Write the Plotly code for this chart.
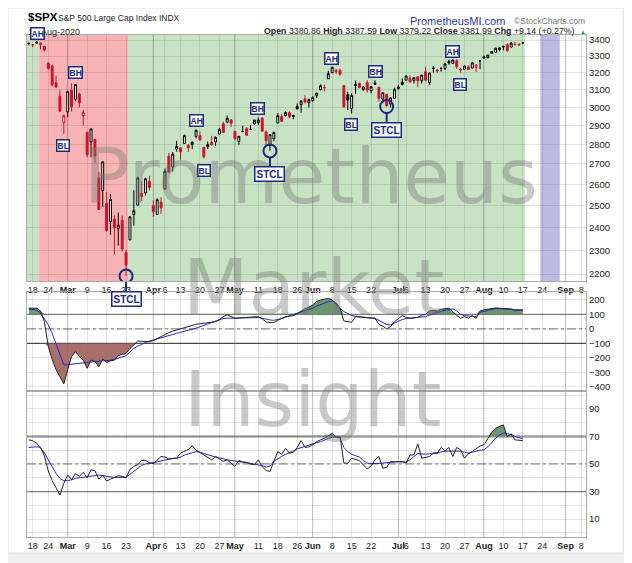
import numpy as np
import plotly.graph_objects as go

# trading days shown on the chart (Feb 14 .. Aug 17, 2020)
trading_days = {
    2: [14, 18, 19, 20, 21, 24, 25, 26, 27, 28],
    3: [2, 3, 4, 5, 6, 9, 10, 11, 12, 13, 16, 17, 18, 19, 20, 23, 24, 25, 26, 27, 30, 31],
    4: [1, 2, 3, 6, 7, 8, 9, 13, 14, 15, 16, 17, 20, 21, 22, 23, 24, 27, 28, 29, 30],
    5: [1, 4, 5, 6, 7, 8, 11, 12, 13, 14, 15, 18, 19, 20, 21, 22, 26, 27, 28, 29],
    6: [1, 2, 3, 4, 5, 8, 9, 10, 11, 12, 15, 16, 17, 18, 19, 22, 23, 24, 25, 26, 29, 30],
    7: [1, 2, 6, 7, 8, 9, 10, 13, 14, 15, 16, 17, 20, 21, 22, 23, 24, 27, 28, 29, 30, 31],
    8: [3, 4, 5, 6, 7, 10, 11, 12, 13, 14, 17],
}
# empty future sessions on the axis
future_days = ['2020-08-18', '2020-08-19', '2020-08-20', '2020-08-21', '2020-08-24',
               '2020-08-25', '2020-08-26', '2020-08-27', '2020-08-28', '2020-08-31',
               '2020-09-01', '2020-09-02', '2020-09-03', '2020-09-04', '2020-09-08']

dates = ['2020-%02d-%02d' % (m, d) for m in trading_days for d in trading_days[m]]
calendar = dates + future_days

opens = [3378.1, 3369.0, 3380.4, 3380.4, 3360.5, 3257.6, 3238.9, 3139.9, 3062.5, 2916.9,
         2974.3, 3096.5, 3045.8, 3075.7, 2954.2, 2863.9, 2813.5, 2825.6, 2630.9, 2570.0, 2508.6,
         2425.7, 2436.5, 2393.5, 2431.9, 2290.7, 2344.4, 2457.8, 2501.3, 2555.9, 2559.0, 2614.7,
         2498.1, 2458.5, 2514.9, 2578.3, 2738.7, 2685.0, 2776.0, 2782.5, 2805.1, 2795.6, 2812.6,
         2842.4, 2845.6, 2784.8, 2787.9, 2810.4, 2812.6, 2854.65, 2909.96, 2918.5, 2930.9,
         2869.1, 2815.0, 2868.9, 2883.1, 2878.3, 2908.8, 2915.5, 2939.5, 2865.9, 2794.5, 2829.95,
         2913.9, 2948.6, 2953.6, 2969.95, 2948.05, 3004.1, 3015.65, 3046.6, 3025.2,
         3038.8, 3064.8, 3098.9, 3111.6, 3163.8, 3199.9, 3213.3, 3213.4, 3123.5, 3071.0, 2993.8,
         3131.0, 3136.1, 3101.6, 3140.3, 3094.4, 3138.7, 3114.4, 3046.6, 3073.2, 3018.6, 3050.2,
         3105.9, 3143.6, 3155.3, 3166.4, 3153.1, 3176.2, 3152.5, 3205.1, 3141.1, 3225.98, 3208.4,
         3224.2, 3224.3, 3268.5, 3254.9, 3271.6, 3218.6, 3219.8, 3234.3, 3227.2, 3231.8, 3270.45,
         3288.3, 3289.9, 3317.4, 3323.2, 3340.0, 3356.0, 3370.3, 3355.5, 3372.95, 3368.7, 3380.86]
highs = [3380.7, 3375.0, 3393.5, 3385.1, 3360.8, 3259.8, 3247.0, 3182.5, 3097.1, 2959.7,
         3090.96, 3136.7, 3130.97, 3083.04, 2985.9, 2863.9, 2882.6, 2825.6, 2660.95, 2711.3, 2562.98,
         2553.9, 2453.6, 2466.97, 2453.0, 2300.7, 2449.7, 2571.4, 2637.0, 2615.9, 2631.8, 2641.4,
         2522.75, 2533.2, 2538.2, 2676.9, 2756.9, 2760.75, 2818.6, 2782.5, 2851.85, 2801.9, 2815.8,
         2879.2, 2868.98, 2785.5, 2815.1, 2844.9, 2842.7, 2887.7, 2921.15, 2954.9, 2930.9,
         2869.1, 2844.2, 2898.2, 2891.1, 2901.9, 2932.2, 2944.25, 2945.8, 2874.1, 2852.8, 2865.0,
         2968.1, 2964.2, 2980.3, 2978.5, 2956.8, 3021.7, 3036.25, 3068.7, 3049.2,
         3062.2, 3081.1, 3130.9, 3128.9, 3211.7, 3233.1, 3222.7, 3223.3, 3123.5, 3088.4, 3079.8,
         3153.45, 3141.2, 3120.0, 3155.5, 3120.9, 3154.9, 3115.0, 3086.25, 3073.7, 3053.9, 3111.5,
         3128.4, 3165.8, 3182.6, 3184.15, 3171.8, 3179.8, 3186.8, 3235.3, 3200.95, 3238.3, 3220.4,
         3233.5, 3258.6, 3277.3, 3279.3, 3279.99, 3227.3, 3241.4, 3243.7, 3264.7, 3250.9, 3272.2,
         3302.7, 3306.8, 3330.8, 3351.0, 3352.5, 3363.3, 3381.0, 3387.9, 3387.2, 3378.5, 3387.59]
lows = [3367.0, 3355.6, 3378.8, 3341.0, 3328.5, 3214.6, 3118.8, 3109.0, 2977.4, 2855.8,
        2945.2, 2976.6, 3034.4, 2999.8, 2901.5, 2734.4, 2734.0, 2707.2, 2478.9, 2492.4, 2380.9,
        2367.0, 2280.5, 2319.8, 2295.6, 2191.9, 2344.4, 2407.5, 2500.7, 2520.0, 2545.3, 2571.2,
        2447.5, 2455.8, 2459.96, 2574.6, 2657.7, 2663.3, 2762.4, 2721.2, 2805.1, 2761.5, 2775.95,
        2830.9, 2820.4, 2727.1, 2775.95, 2794.3, 2791.8, 2852.9, 2860.7, 2912.2, 2892.5,
        2821.6, 2797.85, 2863.6, 2847.65, 2876.5, 2902.9, 2903.4, 2869.6, 2793.15, 2766.6, 2816.8,
        2913.9, 2922.35, 2953.6, 2938.6, 2933.6, 2988.2, 2969.75, 3023.4, 2998.6,
        3031.5, 3051.6, 3098.9, 3090.4, 3163.8, 3196.0, 3193.1, 3181.5, 2999.5, 2984.5, 2965.7,
        3076.1, 3108.0, 3093.5, 3083.1, 3079.4, 3127.1, 3032.1, 3024.0, 3004.6, 2999.7, 3047.8,
        3101.96, 3124.5, 3155.3, 3142.9, 3136.5, 3115.7, 3136.2, 3149.4, 3127.7, 3200.8, 3198.6,
        3205.65, 3215.2, 3247.8, 3253.1, 3222.7, 3200.0, 3214.25, 3216.2, 3227.2, 3204.1, 3220.3,
        3284.5, 3286.4, 3317.4, 3318.1, 3328.7, 3335.4, 3326.4, 3355.5, 3363.4, 3361.6, 3379.22]
closes = [3380.16, 3370.29, 3386.15, 3373.23, 3337.75, 3225.89, 3128.21, 3116.39, 2978.76, 2954.22,
          3090.23, 3003.37, 3130.12, 3023.94, 2972.37, 2746.56, 2882.23, 2741.38, 2480.64, 2711.02,
          2386.13, 2529.19, 2398.10, 2409.39, 2304.92, 2237.40, 2447.33, 2475.56, 2630.07, 2541.47,
          2626.65, 2584.59,
          2470.50, 2526.90, 2488.65, 2663.68, 2659.41, 2749.98, 2789.82, 2761.63, 2846.06, 2783.36,
          2799.55, 2874.56, 2823.16, 2736.56, 2799.31, 2797.80, 2836.74, 2878.48, 2863.39, 2939.51,
          2912.43,
          2830.71, 2842.74, 2868.44, 2848.42, 2881.19, 2929.80, 2930.19, 2870.12, 2820.00, 2852.50,
          2863.70, 2953.91, 2922.94, 2971.61, 2948.51, 2955.45, 2991.77, 3036.13, 3029.73, 3044.31,
          3055.73, 3080.82, 3122.87, 3112.35, 3193.93, 3232.39, 3207.18, 3190.14, 3002.10, 3041.31,
          3066.59, 3124.74, 3113.49, 3115.34, 3097.74, 3117.86, 3131.29, 3050.33, 3083.76, 3009.05,
          3053.24, 3100.29,
          3115.86, 3130.01, 3179.72, 3145.32, 3169.94, 3152.05, 3185.04, 3155.22, 3197.52, 3226.56,
          3215.57, 3224.73, 3251.84, 3257.30, 3276.02, 3235.66, 3215.63, 3239.41, 3218.44, 3258.44,
          3246.22, 3271.12,
          3294.61, 3306.51, 3327.77, 3349.16, 3351.28, 3360.47, 3333.69, 3380.35, 3373.43, 3372.85,
          3381.99]

# middle panel oscillator (black) and its signal (blue)
osc_line = [143, 143, 143, 125, 50, -120, -210, -280, -330, -379,
            -280, -191, -156, -191, -215, -271, -214, -225, -260, -207, -231, -220, -215, -184,
            -175, -168, -135, -110, -83, -85, -87, -88,
            -80, -65, -50, -35, -25, -15, -7, 2, 9, 18, 25, 32, 36, 39, 42, 46, 50, 65, 85, 97, 88,
            74, 76, 78, 80, 82, 84, 85, 70, 48, 44, 44, 60, 75, 85, 88, 92, 105, 124, 140, 150,
            166, 189, 200, 205, 211, 200, 170, 143, 55, 48, 46, 85, 84, 80, 77, 75, 74, 32, 20, 0,
            16, 50,
            74, 92, 80, 74, 76, 80, 95, 101, 124, 128, 124, 135, 140, 143, 120, 92, 74, 85, 74, 92,
            74, 124,
            132, 138, 143, 145, 143, 143, 138, 138, 124, 131, 131]
osc_signal = [138, 136, 131, 110, 70, 28, -30, -98, -170, -248,
              -246, -243, -238, -233, -229, -228, -226, -224, -222, -220, -219, -216, -210, -200,
              -192, -184, -160, -135, -118, -108, -92, -85,
              -78, -70, -62, -53, -45, -38, -30, -24, -18, -10, -2, 6, 14, 23, 33, 45, 55, 65, 72,
              74, 74,
              74, 74, 74, 75, 76, 78, 80, 76, 68, 62, 60, 65, 72, 80, 92, 100, 108, 118, 128, 131,
              143, 158, 166, 178, 188, 193, 180, 143, 120, 105, 92, 88, 84, 80, 78, 76, 74, 60, 45,
              30, 28, 40,
              55, 65, 72, 74, 76, 78, 80, 85, 95, 105, 112, 124, 130, 134, 138, 125, 100, 92, 88, 86,
              85, 115,
              122, 130, 138, 140, 140, 139, 138, 137, 135, 132, 131]

# lower panel RSI (black) and its average (blue)
rsi_line = [67.5, 67, 65, 62, 56, 45, 38, 33, 27.5, 36,
            42, 38.7, 43, 41, 44, 40, 45.8, 45, 39, 42, 37.6, 39, 40, 41.5, 41, 40, 46, 48.2, 49.5,
            52.6, 52.6, 51,
            50.2, 53, 55.5, 55, 53.6, 54, 54.3, 57.9, 59, 60.5, 63.2, 60, 58.4, 56.7, 55, 53, 55.5,
            54, 51.9, 53, 50.5,
            48.2, 52.6, 51.5, 51.2, 50, 49.5, 53, 48, 45.3, 44.6, 51.9, 59, 57, 61.5, 57.8, 58.5,
            62, 67, 62, 62.5,
            64, 66.2, 67.5, 68.7, 70.5, 72.3, 69.4, 69.9, 50.6, 50.6, 54.2, 53.5, 52.5, 49.3, 46.4,
            48.6, 53, 55.4, 46.9, 47.6, 51.7, 51.7,
            51.7, 51.7, 50.6, 56.6, 56.6, 64.6, 54.2, 55, 55.4, 57.8, 57.5, 62, 59.6, 62, 55.4, 62,
            60.3, 54.2, 57.4, 59.1, 61, 63.1,
            63.9, 68, 72.9, 76, 77.5, 78.4, 69.9, 71.9, 67.5, 67.2, 67]
rsi_signal = [62, 62.5, 62.5, 62, 58, 53, 48, 43.2, 39.5, 37.8,
              38, 38.5, 39.6, 40, 40.5, 40.8, 41.5, 42, 42, 41.5, 41, 40.5, 40.2, 40.3, 40.4, 40.4,
              42.5, 44.5, 46.5, 49, 50, 50.4,
              50.6, 51.5, 52.3, 53, 53.5, 54, 54.2, 55, 56.5, 57.5, 58.5, 59, 58.5, 57.5, 56.5,
              55.5, 55, 54.5, 53.5, 53, 52.6,
              52, 51.7, 51.3, 51, 50.5, 50.2, 49.6, 48.8, 47.8, 48.5, 52, 54, 55.5, 57, 58, 59.5,
              61, 62, 63, 63.5,
              64.5, 65.5, 66.2, 67.5, 68.5, 69.4, 69.7, 69, 62, 59, 57, 56, 55, 52.5, 50.6, 50.3,
              50.2, 50.4, 50.7, 51, 51.4, 51.6,
              51.7, 51.5, 51.5, 53, 55, 57.6, 57.3, 57.1, 57.5, 58, 58.5, 59, 59.2, 59.4, 59.5,
              59.6, 59.3, 58.5, 58, 58.6, 59.5, 60,
              60.3, 62.5, 65.5, 68.9, 71, 72.5, 72, 71.3, 70, 69, 68.2]

# x-axis tick labels
tick_dates = ['2020-02-18', '2020-02-24', '2020-03-02', '2020-03-09', '2020-03-16', '2020-03-23',
              '2020-04-01', '2020-04-06', '2020-04-13', '2020-04-20', '2020-04-27', '2020-05-01',
              '2020-05-11', '2020-05-18', '2020-05-26', '2020-06-01', '2020-06-08', '2020-06-15',
              '2020-06-22', '2020-07-01', '2020-07-06', '2020-07-13', '2020-07-20', '2020-07-27',
              '2020-08-03', '2020-08-10', '2020-08-17', '2020-08-24', '2020-09-01', '2020-09-08']
tick_text = ['18', '24', 'Mar', '9', '16', '23', 'Apr', '6', '13', '20', '27', 'May', '11', '18',
             '26', 'Jun', '8', '15', '22', 'Jul', '6', '13', '20', '27', 'Aug', '10', '17', '24',
             'Sep', '8']
months = ['Mar', 'Apr', 'May', 'Jun', 'Jul', 'Aug', 'Sep']
price_ticks = [2200, 2300, 2400, 2500, 2600, 2700, 2800, 2900, 3000, 3100, 3200, 3300, 3400]

# background regimes: (first day, last day, colour)
regimes = [('2020-02-14', '2020-02-19', '#c8e2c4'),
           ('2020-02-20', '2020-03-23', '#f8b4b4'),
           ('2020-03-24', '2020-08-17', '#c8e2c4'),
           ('2020-08-24', '2020-08-28', '#bcbce2')]

# labels on the price chart: (text, position, price)
box_labels = [('BH', 11.9, 3198), ('BL', 8.8, 2792),
              ('AH', 43.0, 2930), ('BL', 45.0, 2669), ('BH', 58.9, 2996),
              ('AH', 77.7, 3288), ('BH', 89.0, 3204), ('BL', 82.8, 2908),
              ('AH', 108.8, 3331), ('BL', 110.9, 3133)]
stcl_dates = ['2020-03-23', '2020-05-14', '2020-06-26']

pos = {d: i for i, d in enumerate(calendar)}
x = np.arange(len(dates))
closes_a = np.array(closes)
prev = np.concatenate([[closes_a[0]], closes_a[:-1]])
up = closes_a >= prev

NAVY = '#1c2a80'
RED = '#d0102a'
FONT = 'Liberation Sans, Arial, sans-serif'


def px_x(p):
    return (p - 27) / 559.0


def px_y(p):
    return (537 - p) / 502.0


fig = go.Figure()

for mask, col in [(up, 'black'), (~up, RED)]:
    idx = np.where(mask)[0]
    fig.add_trace(go.Candlestick(
        x=x[idx], open=np.array(opens)[idx], high=np.array(highs)[idx],
        low=np.array(lows)[idx], close=closes_a[idx],
        increasing=dict(line=dict(color=col, width=1), fillcolor='white'),
        decreasing=dict(line=dict(color=col, width=1), fillcolor=col),
        whiskerwidth=0, xaxis='x', yaxis='y', showlegend=False, hoverinfo='skip'))

stcl_x = [pos[d] for d in stcl_dates]
stcl_y = [lows[pos[d]] for d in stcl_dates]
fig.add_trace(go.Scatter(x=stcl_x, y=stcl_y, mode='markers', xaxis='x', yaxis='y',
                         marker=dict(symbol='circle-open', size=13, color=NAVY,
                                     line=dict(width=2, color=NAVY)),
                         showlegend=False, hoverinfo='skip'))

# middle panel
osc = np.array(osc_line, dtype=float)
fig.add_trace(go.Scatter(x=x, y=np.full(len(x), 100.0), mode='lines', line=dict(width=0),
                         xaxis='x2', yaxis='y2', showlegend=False, hoverinfo='skip'))
fig.add_trace(go.Scatter(x=x, y=np.maximum(osc, 100), mode='lines', line=dict(width=0),
                         fill='tonexty', fillcolor='rgba(95,140,95,0.9)',
                         xaxis='x2', yaxis='y2', showlegend=False, hoverinfo='skip'))
fig.add_trace(go.Scatter(x=x, y=np.full(len(x), -100.0), mode='lines', line=dict(width=0),
                         xaxis='x2', yaxis='y2', showlegend=False, hoverinfo='skip'))
fig.add_trace(go.Scatter(x=x, y=np.minimum(osc, -100), mode='lines', line=dict(width=0),
                         fill='tonexty', fillcolor='rgba(160,95,92,0.9)',
                         xaxis='x2', yaxis='y2', showlegend=False, hoverinfo='skip'))
fig.add_trace(go.Scatter(x=x, y=osc_signal, mode='lines', line=dict(color='#2828c8', width=1),
                         xaxis='x2', yaxis='y2', showlegend=False, hoverinfo='skip'))
fig.add_trace(go.Scatter(x=x, y=osc_line, mode='lines', line=dict(color='#222', width=1),
                         xaxis='x2', yaxis='y2', showlegend=False, hoverinfo='skip'))

# lower panel
rsi = np.array(rsi_line, dtype=float)
fig.add_trace(go.Scatter(x=x, y=np.full(len(x), 70.0), mode='lines', line=dict(width=0),
                         xaxis='x3', yaxis='y3', showlegend=False, hoverinfo='skip'))
fig.add_trace(go.Scatter(x=x, y=np.maximum(rsi, 70), mode='lines', line=dict(width=0),
                         fill='tonexty', fillcolor='rgba(95,140,95,0.9)',
                         xaxis='x3', yaxis='y3', showlegend=False, hoverinfo='skip'))
fig.add_trace(go.Scatter(x=x, y=rsi_signal, mode='lines', line=dict(color='#2828c8', width=1),
                         xaxis='x3', yaxis='y3', showlegend=False, hoverinfo='skip'))
fig.add_trace(go.Scatter(x=x, y=rsi_line, mode='lines', line=dict(color='#222', width=1),
                         xaxis='x3', yaxis='y3', showlegend=False, hoverinfo='skip'))

shapes = [dict(type='rect', xref='paper', yref='paper', x0=px_x(8), x1=px_x(623),
               y0=px_y(553), y1=px_y(8), fillcolor='white', line=dict(color='#e2e2e2', width=1),
               layer='below')]
for d0, d1, col in regimes:
    shapes.append(dict(type='rect', xref='x', yref='y domain', x0=pos[d0] - 0.5,
                       x1=pos[d1] + 0.5, y0=0, y1=1, fillcolor=col, line=dict(width=0),
                       layer='below'))
tick_pos = [pos[d] for d in tick_dates]
for tp, tt in zip(tick_pos, tick_text):
    if tt in months:
        for ya in ['y', 'y2', 'y3']:
            shapes.append(dict(type='line', xref='x', yref=ya + ' domain', x0=tp, x1=tp,
                               y0=0, y1=1, line=dict(color='rgba(0,0,0,0.18)', width=1),
                               layer='below'))
ref_lines = [('y2', 100, '#8a8a8a', 1.2, 'solid'), ('y2', 0, '#777', 1, 'dashdot'),
             ('y2', -100, '#555', 1.3, 'solid'), ('y3', 70, '#a8a8a8', 2.5, 'solid'),
             ('y3', 50, '#777', 1, 'dashdot'), ('y3', 30, '#888', 1.3, 'solid')]
for ya, val, col, w, dash in ref_lines:
    shapes.append(dict(type='line', xref='paper', yref=ya, x0=0, x1=1, y0=val, y1=val,
                       line=dict(color=col, width=w, dash=dash), layer='between'))

annotations = []
# watermark
for txt, cx, cy in [('Prometheus', 311, 177), ('Market', 313, 287), ('Insight', 313, 399)]:
    annotations.append(dict(text=txt, xref='paper', yref='paper', x=px_x(cx), y=px_y(cy),
                            xanchor='center', yanchor='middle', showarrow=False,
                            font=dict(family='DejaVu Sans, Verdana, sans-serif', size=76,
                                      color='rgba(120,120,120,0.4)')))

# header
chg = closes[-1] - closes[-2]
quote = ('<b>Open</b> %.2f <b>High</b> %.2f <b>Low</b> %.2f <b>Close</b> %.2f '
         '<b>Chg</b> %+.2f (%+.2f%%)' % (opens[-1], highs[-1], lows[-1], closes[-1], chg,
                                        chg / closes[-2] * 100))
header = [
    ('<b>$SPX</b>', 26, 17, 'left', 11.5, 'black'),
    ('S&P 500 Large Cap Index INDX', 56, 18, 'left', 8.5, '#222'),
    ('PrometheusMI.com', 507, 21, 'right', 11, '#2a3a9a'),
    ('©StockCharts.com', 512, 21, 'left', 8.5, '#777'),
    ('17-Aug-2020', 26, 32, 'left', 9, '#222'),
    (quote, 577, 31, 'right', 8.8, '#222'),
    ('▲', 578, 32, 'left', 6, '#2a9a2a'),
]
for txt, hx, hy, anchor, size, col in header:
    annotations.append(dict(text=txt, xref='paper', yref='paper', x=px_x(hx), y=px_y(hy),
                            xanchor=anchor, yanchor='middle', showarrow=False,
                            font=dict(family=FONT, size=size, color=col)))

label_style = dict(showarrow=False, xanchor='center', yanchor='middle',
                   font=dict(family=FONT, size=8.5, color=NAVY),
                   bgcolor='white', bordercolor=NAVY, borderwidth=1.5, borderpad=0)
# first AH sits above the plot, over the date line
annotations.append(dict(label_style, text='<b>AH</b>', xref='paper', yref='paper',
                        x=px_x(37), y=px_y(33)))
for txt, xp, price in box_labels:
    annotations.append(dict(label_style, text='<b>%s</b>' % txt, x=xp, y=np.log10(price),
                            xref='x', yref='y'))
for sx, sy in zip(stcl_x, stcl_y):
    annotations.append(dict(text='<b>STCL</b>', x=sx, y=np.log10(sy), xref='x', yref='y',
                            showarrow=True, arrowhead=0, arrowwidth=2, arrowcolor=NAVY,
                            ax=0, ay=23, standoff=6,
                            font=dict(family=FONT, size=10, color=NAVY),
                            bgcolor='white', bordercolor=NAVY, borderwidth=1.5, borderpad=1))

ticktext = ['<b>%s</b>' % t if t in months else t for t in tick_text]
xcommon = dict(range=[-0.465, 143.24], tickvals=tick_pos, ticktext=ticktext, showgrid=True,
               gridcolor='rgba(0,0,0,0.10)', showline=True, mirror=True, linecolor='#aaaaaa',
               ticks='', zeroline=False, tickangle=0, automargin=False,
               tickfont=dict(family=FONT, size=9, color='#222'), fixedrange=True)
ycommon = dict(side='right', showgrid=True, gridcolor='rgba(0,0,0,0.10)', showline=True,
               mirror=True, linecolor='#aaaaaa', ticks='', zeroline=False, automargin=False,
               tickfont=dict(family=FONT, size=9.5, color='#222'))

# the page puts the figure 8px in from the top-left corner, so the margins compensate
fig.update_layout(
    width=632, height=563,
    margin=dict(l=19, r=54, t=27, b=34),
    paper_bgcolor='#f0f0f0', plot_bgcolor='white',
    showlegend=False,
    xaxis=dict(xcommon, anchor='y', rangeslider=dict(visible=False)),
    xaxis2=dict(xcommon, anchor='y2', matches='x', showticklabels=False),
    xaxis3=dict(xcommon, anchor='y3', matches='x'),
    yaxis=dict(ycommon, domain=[0.50996, 1], type='log',
               range=[np.log10(2172), np.log10(3432)], tickvals=price_ticks,
               ticktext=[str(v) for v in price_ticks]),
    yaxis2=dict(ycommon, domain=[0.29084, 0.48805], range=[-428, 255],
                tickvals=[-400, -300, -200, -100, 0, 100, 200]),
    yaxis3=dict(ycommon, domain=[0, 0.29084], range=[-3, 103],
                tickvals=list(range(0, 101, 10)),
                ticktext=['', '10', '', '30', '', '50', '', '70', '', '90', '']),
    shapes=shapes,
    annotations=annotations,
)

fig.write_html('out.html')
